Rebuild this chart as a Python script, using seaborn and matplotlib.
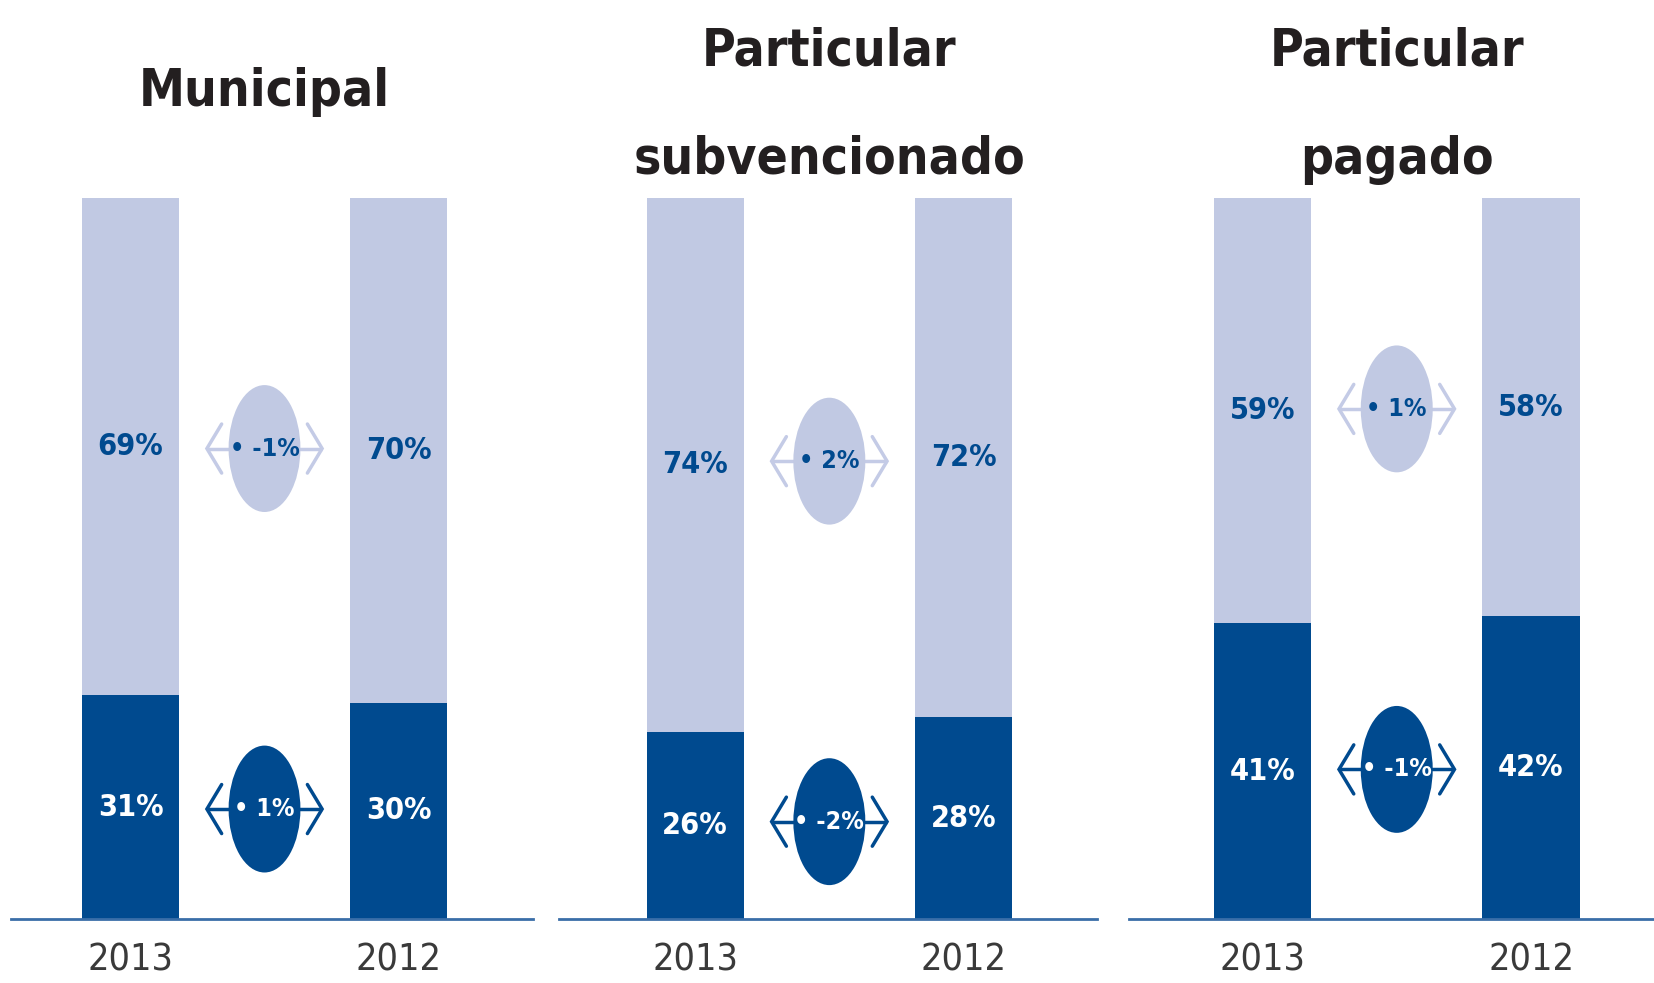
import matplotlib
matplotlib.use("Agg")
import matplotlib.pyplot as plt
from matplotlib import font_manager
from matplotlib.patches import Ellipse
import seaborn as sns
import pandas as pd

# ---------------- data ----------------
panels = ["Municipal", "Particular\nsubvencionado", "Particular\npagado"]
years = ["2013", "2012"]
dark_vals = [[31, 30], [26, 28], [41, 42]]     # bottom (dark) segment
light_vals = [[69, 70], [74, 72], [59, 58]]    # top (light) segment
light_diff = ["-1%", "2%", "1%"]
dark_diff = ["1%", "-2%", "-1%"]

DARK = "#004a8f"
LIGHT = "#c1c9e3"
LIGHT_ARROW = "#c4cbe6"
LINE = "#3a6ea8"
TXT = "#231f20"

sns.set_theme(style="white")

# pick a narrow font if one is installed
entries = font_manager.fontManager.ttflist
narrow = None
for f in entries:
    st = str(f.stretch)
    if ("Narrow" in f.name or "Condensed" in f.name or
            st in ("condensed", "semi-condensed", "extra-condensed")):
        narrow = f
        break
if narrow is not None:
    FAM = narrow.name
    STRETCH = narrow.stretch if isinstance(narrow.stretch, str) else "normal"
    SZ = dict(title=37, pct=22, badge=18, year=27)
else:
    FAM = "Roboto"
    STRETCH = "normal"
    SZ = dict(title=34, pct=20, badge=16, year=24)
plt.rcParams["font.family"] = [FAM, "DejaVu Sans"]
plt.rcParams["font.stretch"] = STRETCH

W, H = 1654, 983
fig = plt.figure(figsize=(W / 100, H / 100), dpi=100)

# axes extents in pixels (left, right) and x-limits
ax_px = [(10.5, 533), (559, 1097), (1129, 1654)]
xlims = [(-0.448, 1.502), (-0.507, 1.497), (-0.497, 1.458)]
base_y, top_y = 919, 198
bar_w = 0.362

for i, name in enumerate(panels):
    l, r = ax_px[i]
    ax = fig.add_axes([l / W, (H - base_y) / H, (r - l) / W, (base_y - top_y) / H])
    df = pd.DataFrame({"year": years,
                       "dark": dark_vals[i],
                       "total": [d + li for d, li in zip(dark_vals[i], light_vals[i])]})
    sns.barplot(data=df, x="year", y="total", order=years, color=LIGHT,
                width=bar_w, saturation=1, ax=ax)
    sns.barplot(data=df, x="year", y="dark", order=years, color=DARK,
                width=bar_w, saturation=1, ax=ax)
    for p in ax.patches:
        p.set_edgecolor("none")
    ax.set_xlim(*xlims[i])
    ax.set_ylim(0, 100)
    ax.set_xlabel("")
    ax.set_ylabel("")
    ax.set_yticks([])
    for s in ["left", "right", "top"]:
        ax.spines[s].set_visible(False)
    ax.spines["bottom"].set_color(LINE)
    ax.spines["bottom"].set_linewidth(2)
    ax.tick_params(axis="x", length=0, pad=17, labelsize=SZ["year"],
                   labelcolor="#3a3a3a")

    # segment labels
    mids_dark, mids_light = [], []
    for j in range(2):
        d = dark_vals[i][j]
        li = light_vals[i][j]
        md = d / 2
        ml = d + li / 2
        mids_dark.append(md)
        mids_light.append(ml)
        ax.text(j, md, f"{d}%", ha="center", va="center", color="white",
                fontsize=SZ["pct"], fontweight="bold")
        ax.text(j, ml, f"{li}%", ha="center", va="center", color=DARK,
                fontsize=SZ["pct"], fontweight="bold")

    # badges
    for yv, txt, fc, tc, ac in [
        (sum(mids_light) / 2, light_diff[i], LIGHT, DARK, LIGHT_ARROW),
        (sum(mids_dark) / 2, dark_diff[i], DARK, "white", DARK),
    ]:
        half = 0.215
        ax.plot([0.5 - half, 0.5 + half], [yv, yv], color=ac, lw=2.5,
                solid_capstyle="butt", zorder=3)
        for sgn in (-1, 1):
            tip = 0.5 + sgn * half
            ax.plot([tip - sgn * 0.055, tip, tip - sgn * 0.055],
                    [yv + 3.4, yv, yv - 3.4], color=ac, lw=2.5, zorder=3,
                    solid_joinstyle="miter")
        ax.add_patch(Ellipse((0.5, yv), 0.268, 17.6, facecolor=fc,
                             edgecolor="none", zorder=4))
        ax.text(0.5, yv, "\u2022 " + txt, ha="center", va="center", color=tc,
                fontsize=SZ["badge"], fontweight="bold", zorder=5)

    # title
    cx = (l + (0.5 - xlims[i][0]) / (xlims[i][1] - xlims[i][0]) * (r - l)) / W
    lines = name.split("\n")
    if len(lines) == 1:
        baselines = [106]
    else:
        baselines = [66, 174]
    for ln, by in zip(lines, baselines):
        fig.text(cx, (H - by) / H, ln, ha="center", va="baseline",
                 fontsize=SZ["title"], fontweight="bold", color=TXT)

fig.savefig("out.png", dpi=100)
